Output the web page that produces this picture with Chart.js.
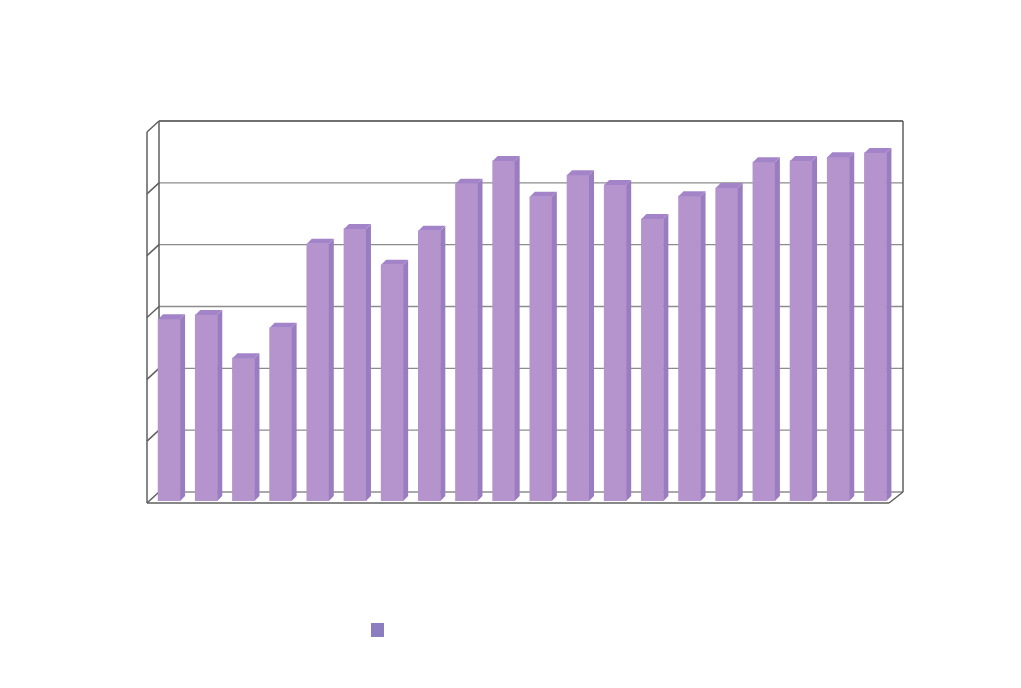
<!DOCTYPE html>
<html>
<head>
<meta charset="utf-8">
<style>
  html, body { margin: 0; padding: 0; background: #fff; }
  canvas { display: block; }
</style>
<script src="https://cdn.jsdelivr.net/npm/chart.js@4"></script>
</head>
<body>
<canvas id="chart" width="1021" height="688"></canvas>
<script>
// the source picture shows no readable labels, so categories are just positions
const categories = ['1','2','3','4','5','6','7','8','9','10','11','12','13','14','15','16','17','18','19','20'];
const seriesValues = [2.94,3.01,2.31,2.80,4.16,4.40,3.82,4.37,5.13,5.50,4.92,5.27,5.11,4.56,4.93,5.06,5.48,5.50,5.56,5.63];
const yTicks = [0,1,2,3,4,5,6];

const frontColor = '#b594cd';
const sideColor = '#9a7cc0';
const topColor = '#a484c8';
const wallColor = '#5f5f5f';
const gridColor = '#8c8c8c';
const depth = 5;

function line(ctx, x1, y1, x2, y2) {
  ctx.beginPath();
  ctx.moveTo(x1, y1);
  ctx.lineTo(x2, y2);
  ctx.stroke();
}

function poly(ctx, pts, color) {
  ctx.fillStyle = color;
  ctx.beginPath();
  pts.forEach((p, i) => i ? ctx.lineTo(p[0], p[1]) : ctx.moveTo(p[0], p[1]));
  ctx.closePath();
  ctx.fill();
}

// back wall, side wall and floor of the fake 3d box
const boxPlugin = {
  id: 'box',
  beforeDatasetsDraw(chart) {
    const ctx = chart.ctx;
    const a = chart.chartArea;
    const y = chart.scales.y;
    const backL = a.left + 8.5, backR = a.right + 9;
    const frontL = a.left - 3.5, frontR = a.right - 5;
    const top = y.getPixelForValue(6) - 9;
    const floor = y.getPixelForValue(0) - 9;
    ctx.save();
    ctx.lineWidth = 1.3;
    ctx.strokeStyle = gridColor;
    yTicks.forEach(t => {
      const py = y.getPixelForValue(t) - 9;
      line(ctx, backL, py, backR, py);
    });
    ctx.strokeStyle = wallColor;
    ctx.lineWidth = 1.5;
    yTicks.forEach(t => {
      const py = y.getPixelForValue(t) - 9;
      line(ctx, frontL, py + 11, backL, py);
    });
    line(ctx, backL, top, backR, top);
    line(ctx, backL, top, backL, floor);
    line(ctx, backR, top, backR, floor);
    line(ctx, frontL, top + 11, frontL, floor + 11);
    line(ctx, frontL, floor + 11, frontR, floor + 11);
    line(ctx, frontR, floor + 11, backR, floor);
    ctx.restore();
  },
  afterDatasetsDraw(chart) {
    const ctx = chart.ctx;
    chart.getDatasetMeta(0).data.forEach(bar => {
      const l = bar.x - bar.width / 2, r = bar.x + bar.width / 2;
      poly(ctx, [[r, bar.y], [r + depth, bar.y - depth], [r + depth, bar.base - depth], [r, bar.base]], sideColor);
      poly(ctx, [[l, bar.y], [l + depth, bar.y - depth], [r + depth, bar.y - depth], [r, bar.y]], topColor);
    });
    // legend swatch, the source has no visible legend text
    ctx.fillStyle = '#8b7dc0';
    ctx.fillRect(371, 623, 13, 14);
  }
};

new Chart(document.getElementById('chart').getContext('2d'), {
  type: 'bar',
  data: {
    labels: categories,
    datasets: [{ data: seriesValues, backgroundColor: frontColor, barThickness: 22, borderWidth: 0 }]
  },
  options: {
    responsive: false,
    animation: false,
    layout: { padding: { left: 150.5, right: 127, top: 130, bottom: 187 } },
    plugins: { legend: { display: false }, tooltip: { enabled: false } },
    scales: {
      x: { display: false, grid: { display: false } },
      y: { display: false, min: 0, max: 6, grid: { display: false } }
    }
  },
  plugins: [boxPlugin]
});
</script>
</body>
</html>
